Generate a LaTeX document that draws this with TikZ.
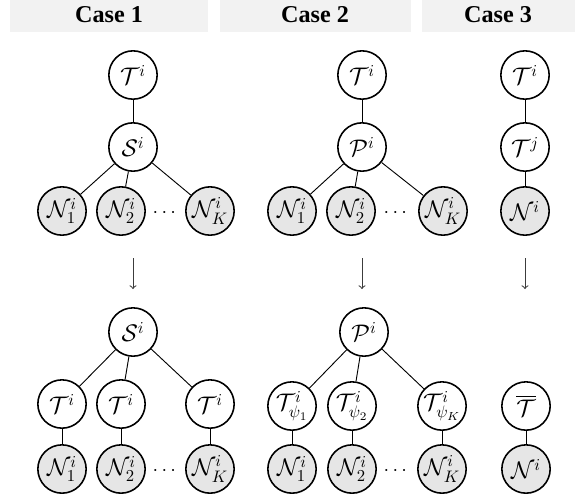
\documentclass[tikz,border=0pt]{standalone}
\usepackage[no-math]{fontspec}
\setmainfont{Liberation Serif}
\usepackage{amsmath}
\definecolor{casegray}{RGB}{242,242,242}
\definecolor{obsgray}{RGB}{230,230,230}
\definecolor{arrowgray}{RGB}{60,60,60}

\tikzset{
  var/.style={circle, draw, line width=0.95pt, minimum size=29pt, inner sep=0pt, font=\fontsize{14}{16}\selectfont},
  obs/.style={var, fill=obsgray},
  gap/.style={font=\fontsize{12}{14}\selectfont, inner sep=0pt},
  link/.style={line width=0.55pt},
  casebar/.style={fill=casegray, draw=none},
  casetitle/.style={font=\fontsize{14.5}{16}\selectfont\bfseries},
  flow/.style={->, line width=0.6pt, draw=arrowgray}
}

\begin{document}
\begin{tikzpicture}[x=0.6pt, y=-0.6pt]
    \useasboundingbox (0,0) rectangle (575,502);

    % Case headers
    \fill[casebar] (10,0) rectangle (208,32);
    \fill[casebar] (220,0) rectangle (411,32);
    \fill[casebar] (422,0) rectangle (575,32);
    \node[casetitle] (title1) at (109,15) {Case 1};
    \node[casetitle] (title2) at (315,15) {Case 2};
    \node[casetitle] (title3) at (498,15) {Case 3};

    % Case 1 - before
    \node[var] (aT) at (133,75) {$\mathcal{T}^i$};
    \node[var] (aS) at (133,147) {$\mathcal{S}^i$};
    \node[obs] (aN1) at (62,211) {$\mathcal{N}_1^i$};
    \node[obs] (aN2) at (121,211) {$\mathcal{N}_2^i$};
    \node[gap] (adots) at (166,213) {$\cdots$};
    \node[obs] (aNK) at (210,211) {$\mathcal{N}_K^i$};
    \draw[link] (aT) -- (aS);
    \draw[link] (aS) -- (aN1);
    \draw[link] (aS) -- (aN2);
    \draw[link] (aS) -- (aNK);

    % Case 2 - before
    \node[var] (bT) at (362,75) {$\mathcal{T}^i$};
    \node[var] (bP) at (362,147) {$\mathcal{P}^i$};
    \node[obs] (bN1) at (292,211) {$\mathcal{N}_1^i$};
    \node[obs] (bN2) at (351,211) {$\mathcal{N}_2^i$};
    \node[gap] (bdots) at (397,213) {$\cdots$};
    \node[obs] (bNK) at (443,211) {$\mathcal{N}_K^i$};
    \draw[link] (bT) -- (bP);
    \draw[link] (bP) -- (bN1);
    \draw[link] (bP) -- (bN2);
    \draw[link] (bP) -- (bNK);

    % Case 3 - before
    \node[var] (cT) at (525,75) {$\mathcal{T}^i$};
    \node[var] (cTj) at (525,147) {$\mathcal{T}^j$};
    \node[obs] (cN) at (525,211) {$\mathcal{N}^i$};
    \draw[link] (cT) -- (cTj);
    \draw[link] (cTj) -- (cN);

    % Transformation arrows
    \coordinate (aFrom) at (133,258);
    \coordinate (aTo) at (133,289);
    \coordinate (bFrom) at (362,258);
    \coordinate (bTo) at (362,289);
    \coordinate (cFrom) at (525,258);
    \coordinate (cTo) at (525,289);
    \draw[flow] (aFrom) -- (aTo);
    \draw[flow] (bFrom) -- (bTo);
    \draw[flow] (cFrom) -- (cTo);

    % Case 1 - after
    \node[var] (dS) at (133,332) {$\mathcal{S}^i$};
    \node[var] (dT1) at (62,404) {$\mathcal{T}^i$};
    \node[var] (dT2) at (121,404) {$\mathcal{T}^i$};
    \node[var] (dTK) at (210,404) {$\mathcal{T}^i$};
    \node[obs] (dN1) at (62,469) {$\mathcal{N}_1^i$};
    \node[obs] (dN2) at (121,469) {$\mathcal{N}_2^i$};
    \node[gap] (ddots) at (166,471) {$\cdots$};
    \node[obs] (dNK) at (210,469) {$\mathcal{N}_K^i$};
    \draw[link] (dS) -- (dT1);
    \draw[link] (dS) -- (dT2);
    \draw[link] (dS) -- (dTK);
    \draw[link] (dT1) -- (dN1);
    \draw[link] (dT2) -- (dN2);
    \draw[link] (dTK) -- (dNK);

    % Case 2 - after
    \node[var] (eP) at (364,332) {$\mathcal{P}^i$};
    \node[var] (eT1) at (292,406) {$\mathcal{T}_{\psi_1}^i$};
    \node[var] (eT2) at (352,406) {$\mathcal{T}_{\psi_2}^i$};
    \node[var] (eTK) at (442,406) {$\mathcal{T}_{\psi_K}^i$};
    \node[obs] (eN1) at (292,469) {$\mathcal{N}_1^i$};
    \node[obs] (eN2) at (352,469) {$\mathcal{N}_2^i$};
    \node[gap] (edots) at (397,471) {$\cdots$};
    \node[obs] (eNK) at (442,469) {$\mathcal{N}_K^i$};
    \draw[link] (eP) -- (eT1);
    \draw[link] (eP) -- (eT2);
    \draw[link] (eP) -- (eTK);
    \draw[link] (eT1) -- (eN1);
    \draw[link] (eT2) -- (eN2);
    \draw[link] (eTK) -- (eNK);

    % Case 3 - after
    \node[var] (fT) at (526,406) {$\overline{\mathcal{T}}$};
    \node[obs] (fN) at (526,469) {$\mathcal{N}^i$};
    \draw[link] (fT) -- (fN);
\end{tikzpicture}
\end{document}
